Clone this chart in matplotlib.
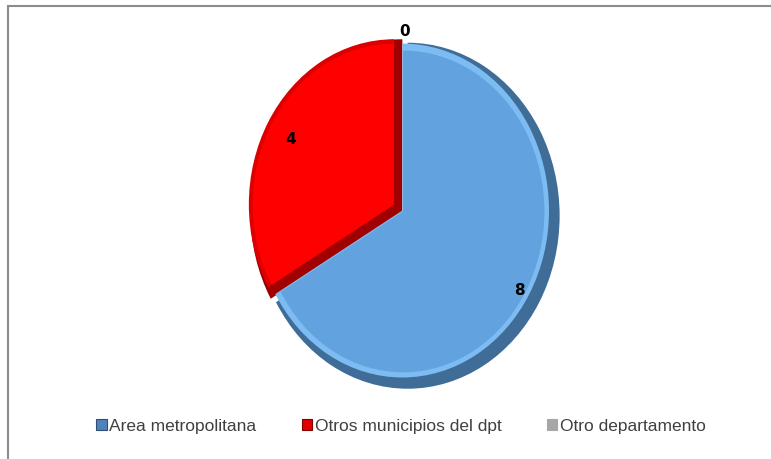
import matplotlib
matplotlib.use('Agg')
import matplotlib.pyplot as plt
from matplotlib.patches import Patch, Rectangle
import numpy as np

plt.rcParams['font.family'] = ['Liberation Sans Narrow', 'Liberation Sans', 'DejaVu Sans']

# datos
categorias = ['Area metropolitana', 'Otros municipios del dpt', 'Otro departamento']
valores = [8, 4, 0]
colores_cara = ['#62a3df', '#ff0000', '#a6a6a6']
colores_borde = ['#3f6d98', '#a00000', '#7f7f7f']
colores_luz = ['#7dbcf3', '#dc0000', '#c0c0c0']

fig = plt.figure(figsize=(7.71, 4.60), dpi=100)
fig.patch.set_facecolor('white')

# marco del grafico
fig.patches.append(Rectangle((8 / 771, -0.05), 1.2, 1 - 7 / 460 + 0.05,
                             transform=fig.transFigure, fill=False,
                             edgecolor='#8c8c8c', linewidth=1.5))

# ejes con forma eliptica (pie mas alto que ancho)
cx, cy, rx, ry = 405, 215, 152, 173
ax = fig.add_axes([(cx - rx) / 771, (460 - cy - ry) / 460, 2 * rx / 771, 2 * ry / 460])
explode = [0.02, 0.02, 0.0]

# base oscura (borde biselado)
w_base, _ = ax.pie(valores, colors=colores_borde, startangle=90, counterclock=False,
                   explode=explode, radius=1.0, wedgeprops=dict(linewidth=0))
# luz en las aristas superiores
w_luz, _ = ax.pie(valores, colors=colores_luz, startangle=90, counterclock=False,
                  explode=explode, radius=0.965, center=(-0.035, 0.03),
                  wedgeprops=dict(linewidth=0))
# cara principal
w_cara, _ = ax.pie(valores, colors=colores_cara, startangle=90, counterclock=False,
                   explode=explode, radius=0.93, center=(-0.03, 0.025),
                   wedgeprops=dict(linewidth=0))
# el rojo deja ver su arista oscura a la derecha y abajo
c_rojo = (w_cara[1].center[0] - 0.025, w_cara[1].center[1] + 0.02)
w_cara[1].set_center(c_rojo)
w_luz[1].set_center(c_rojo)
w_luz[1].set_radius(0.955)

ax.set_aspect('auto')
ax.set_xlim(-1, 1)
ax.set_ylim(-1, 1)
ax.axis('off')

# etiquetas de datos
for w, v in zip(w_base, valores):
    ang = np.deg2rad((w.theta1 + w.theta2) / 2)
    r = 0.87 if v > 0 else 1.06
    ax.text(r * np.cos(ang), r * np.sin(ang), str(v), ha='center', va='center',
            fontsize=11, fontweight='bold', color='black', family=['DejaVu Sans'],
            clip_on=False)

# leyenda
handles = [Patch(facecolor='#4f81bd', edgecolor='#2c4d75', linewidth=0.8),
           Patch(facecolor='#e00000', edgecolor='#800000', linewidth=0.8),
           Patch(facecolor='#a6a6a6', edgecolor='#a6a6a6', linewidth=0.8)]
fig.legend(handles, categorias, loc='center', bbox_to_anchor=(401 / 771, 1 - 427 / 460),
           ncol=3, frameon=False, fontsize=12.5, handlelength=0.6, handleheight=0.6,
           handletextpad=0.15, columnspacing=2.6, labelcolor='#404040')

fig.savefig('out.png', dpi=100)
